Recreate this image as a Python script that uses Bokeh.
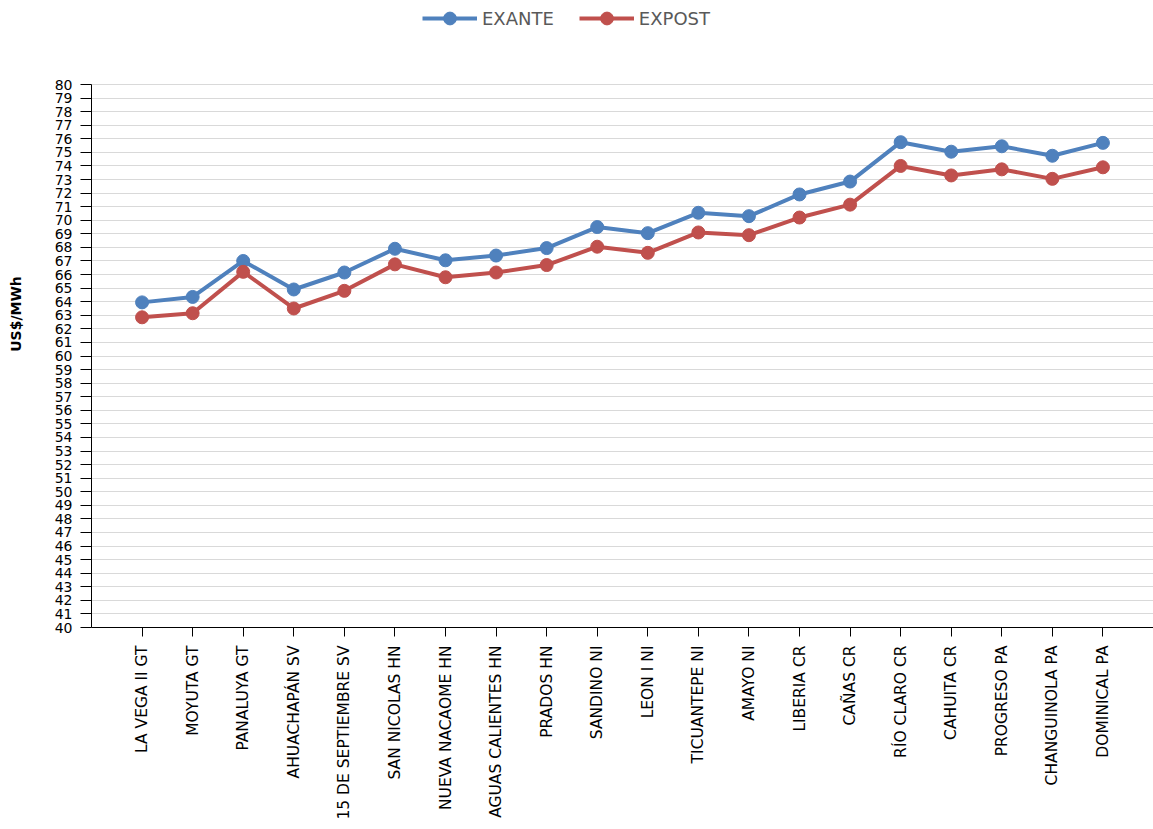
from bokeh.plotting import figure
from bokeh.models import FactorRange, Legend, LegendItem, FixedTicker, ColumnDataSource, Range1d
from bokeh.embed import file_html
from bokeh.resources import INLINE

categories = ["LA VEGA II GT", "MOYUTA GT", "PANALUYA GT", "AHUACHAPÁN SV",
              "15 DE SEPTIEMBRE SV", "SAN NICOLAS HN", "NUEVA NACAOME HN",
              "AGUAS CALIENTES HN", "PRADOS HN", "SANDINO NI", "LEON I NI",
              "TICUANTEPE NI", "AMAYO NI", "LIBERIA CR", "CAÑAS CR", "RÍO CLARO CR",
              "CAHUITA CR", "PROGRESO PA", "CHANGUINOLA PA", "DOMINICAL PA"]
exante = [63.95, 64.35, 67.0, 64.9, 66.15, 67.9, 67.05, 67.4, 67.95, 69.5, 69.05,
          70.55, 70.3, 71.9, 72.85, 75.75, 75.05, 75.45, 74.75, 75.7]
expost = [62.85, 63.15, 66.2, 63.5, 64.8, 66.75, 65.8, 66.15, 66.7, 68.05, 67.6,
          69.1, 68.9, 70.2, 71.15, 74.0, 73.3, 73.75, 73.05, 73.9]
y_ticks = list(range(40, 81))

BLUE = "#4f81bd"
RED = "#c0504d"

W, H = 1153, 829
BOTTOM = 202
FRAME_H = H - BOTTOM
AXIS_PX = 543  # pixels between 40 and 80
y_top = 40 + FRAME_H * 40 / AXIS_PX

src = ColumnDataSource(dict(x=categories, exante=exante, expost=expost))

p = figure(width=W, height=H, output_backend="svg", toolbar_location=None,
           x_range=FactorRange(*categories, range_padding=0.5, range_padding_units="absolute"),
           y_range=Range1d(40, y_top))
p.min_border_left = 91
p.min_border_right = 0
p.min_border_top = 0
p.min_border_bottom = BOTTOM
p.outline_line_color = None

l1 = p.line("x", "exante", source=src, line_color=BLUE, line_width=4)
c1 = p.scatter("x", "exante", source=src, size=13, fill_color=BLUE, line_color=BLUE)
l2 = p.line("x", "expost", source=src, line_color=RED, line_width=4)
c2 = p.scatter("x", "expost", source=src, size=13, fill_color=RED, line_color=RED)

p.yaxis.ticker = FixedTicker(ticks=y_ticks)
p.yaxis.bounds = (40, 80)
p.yaxis.major_tick_out = 11
p.yaxis.major_tick_in = 0
p.yaxis.minor_tick_line_color = None
p.yaxis.major_label_standoff = 8
p.yaxis.major_label_text_font = "DejaVu Sans"
p.yaxis.major_label_text_font_size = "14px"
p.yaxis.major_label_text_color = "#000000"
p.yaxis.axis_line_color = "#000000"
p.yaxis.major_tick_line_color = "#000000"
p.yaxis.axis_label = "US$/MWh"
p.yaxis.axis_label_text_font = "DejaVu Sans"
p.yaxis.axis_label_text_font_size = "14px"
p.yaxis.axis_label_text_font_style = "bold"
p.yaxis.axis_label_text_color = "#000000"
p.yaxis.axis_label_standoff = 28

p.xaxis.major_label_orientation = 1.5707963
p.xaxis.major_tick_out = 9
p.xaxis.major_tick_in = 0
p.xaxis.major_label_standoff = 9
p.xaxis.major_label_text_font = "DejaVu Sans"
p.xaxis.major_label_text_font_size = "15.5px"
p.xaxis.major_label_text_color = "#000000"
p.xaxis.axis_line_color = "#000000"
p.xaxis.major_tick_line_color = "#000000"

p.xgrid.grid_line_color = None
p.ygrid.grid_line_color = "#d9d9d9"
p.ygrid.grid_line_width = 1
p.ygrid.ticker = FixedTicker(ticks=y_ticks)

legend = Legend(items=[LegendItem(label="EXANTE", renderers=[l1, c1]),
                       LegendItem(label="EXPOST", renderers=[l2, c2])],
                orientation="horizontal", location=(331, 593),
                border_line_color=None, background_fill_alpha=0,
                padding=0, margin=0, spacing=25,
                glyph_width=55, glyph_height=32, label_standoff=5,
                label_text_font="DejaVu Sans", label_text_font_size="18px",
                label_text_color="#595959")
p.add_layout(legend, "center")

open("out.html", "w").write(file_html(p, INLINE))
